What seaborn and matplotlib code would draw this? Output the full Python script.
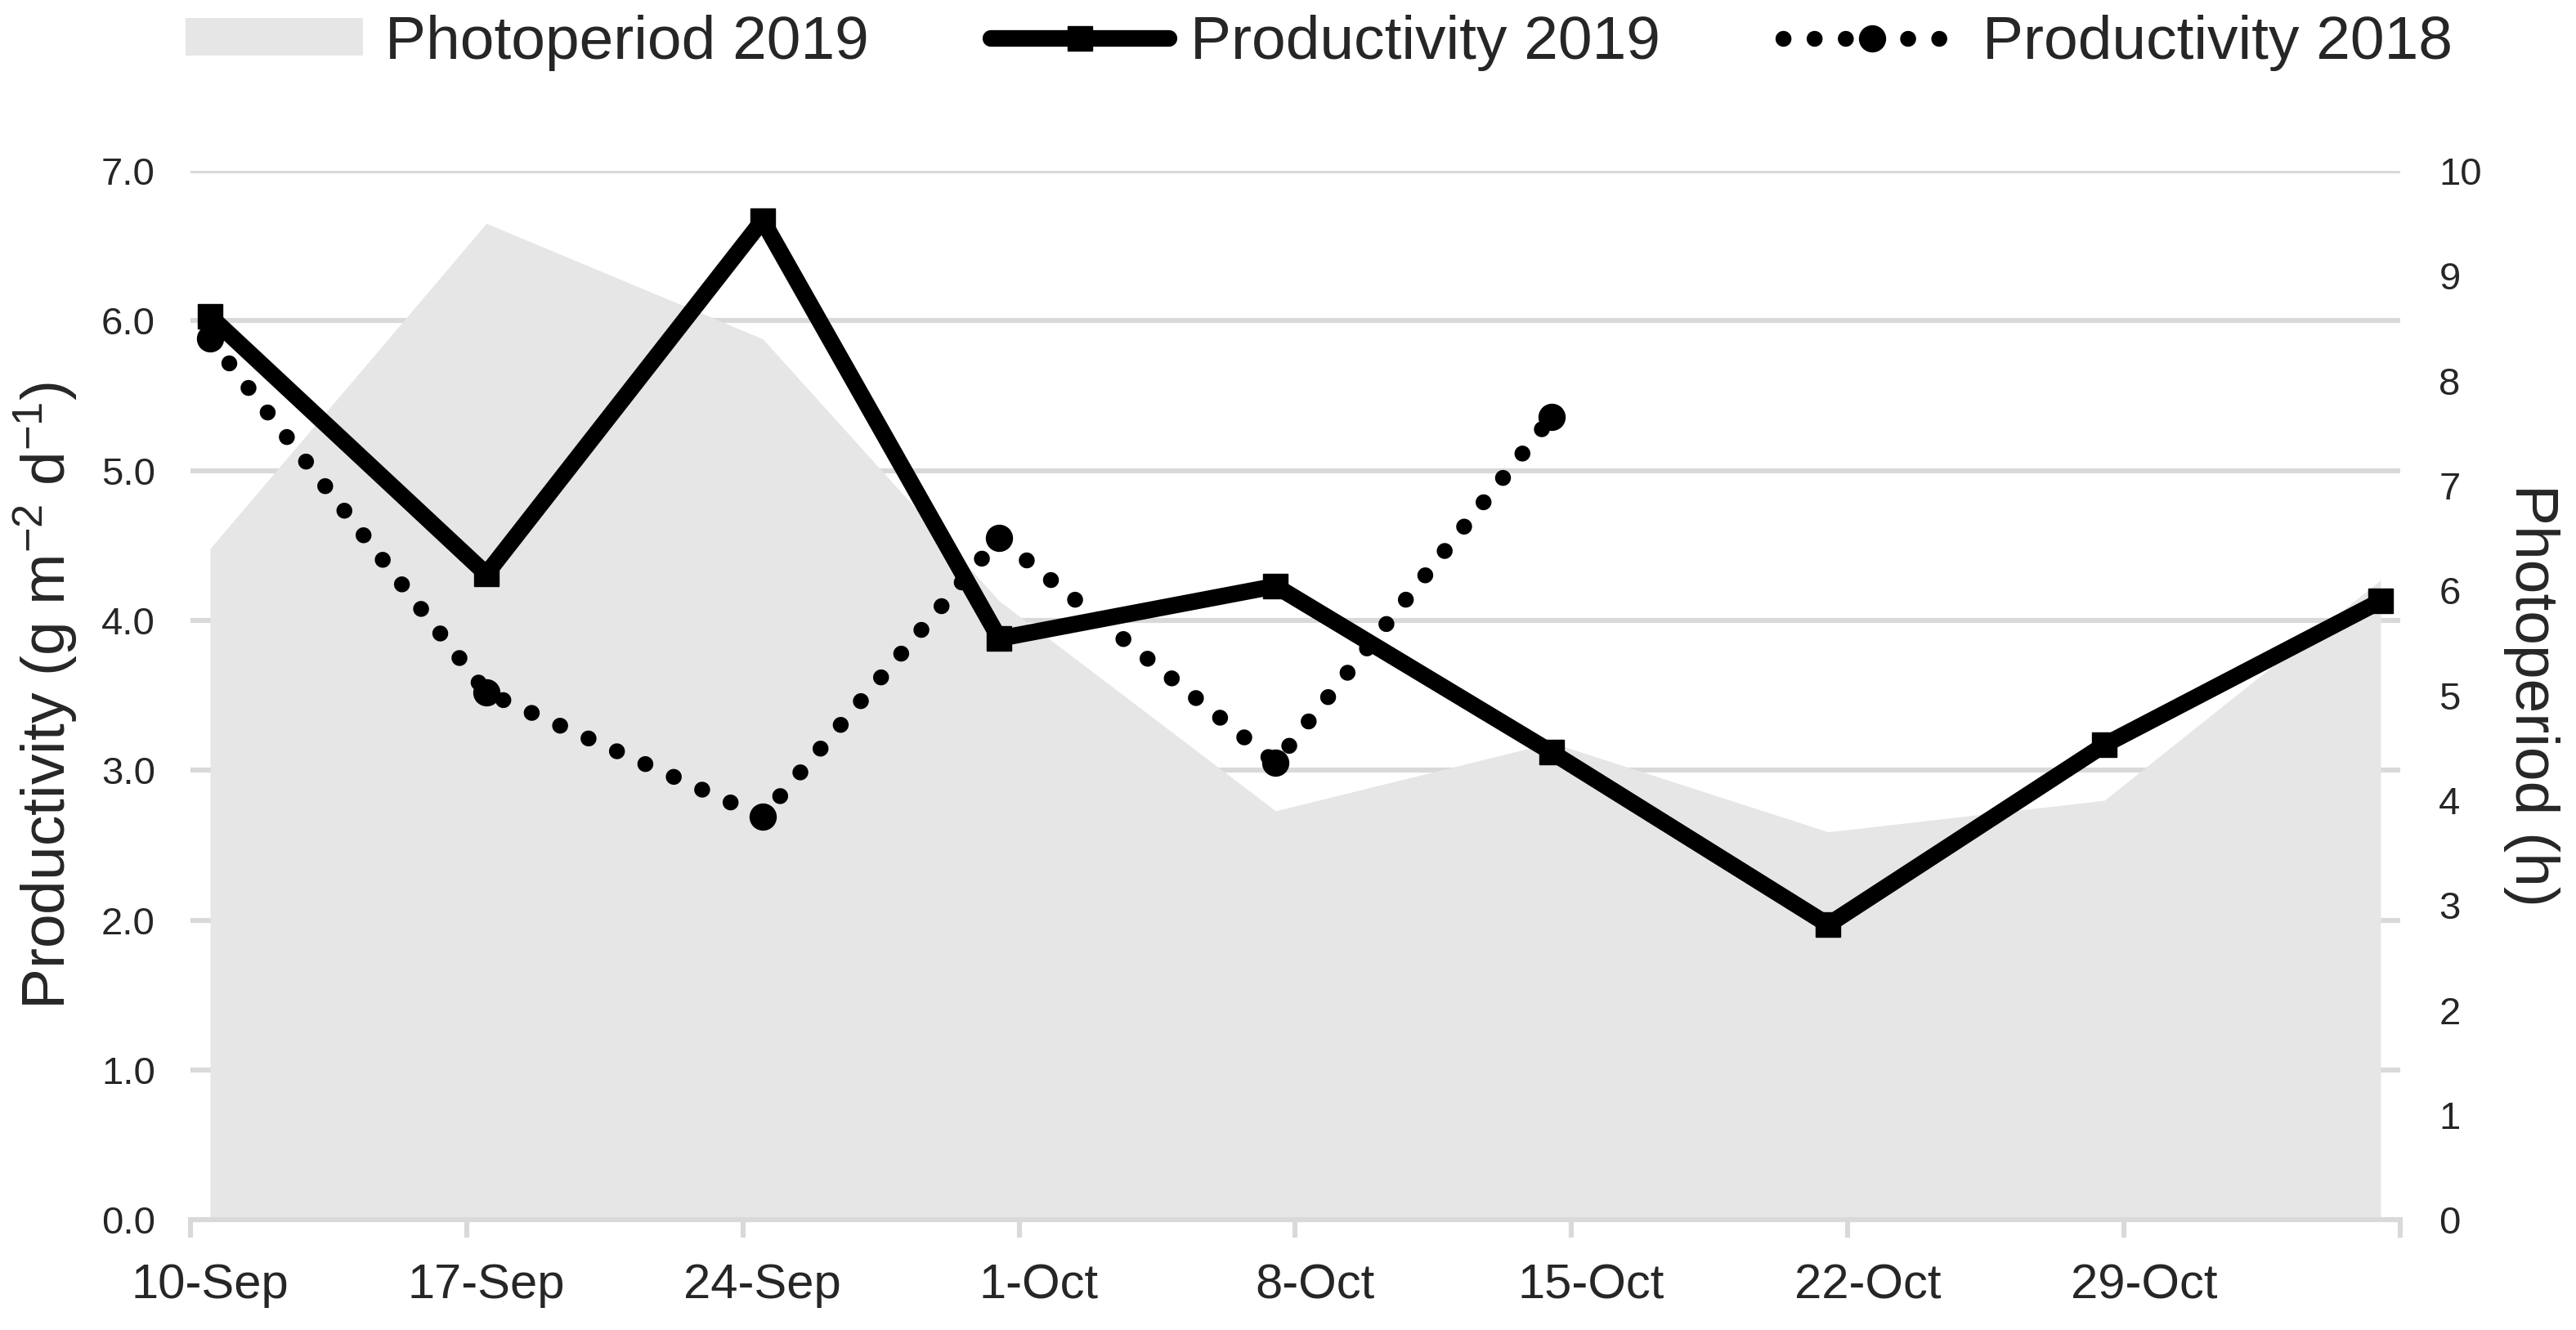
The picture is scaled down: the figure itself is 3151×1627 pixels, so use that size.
import seaborn as sns
import pandas as pd
import numpy as np
import matplotlib
matplotlib.use('Agg')
import matplotlib.pyplot as plt
import matplotlib.dates as mdates
from matplotlib.ticker import FixedLocator, FixedFormatter, NullFormatter, FormatStrFormatter

# sampling dates (2018 values are drawn on the same day-of-season calendar)
dates_2019 = ["2019-09-10", "2019-09-17", "2019-09-24", "2019-09-30", "2019-10-07",
              "2019-10-14", "2019-10-21", "2019-10-28", "2019-11-04"]
productivity_2019 = [6.03, 4.31, 6.67, 3.88, 4.23, 3.12, 1.97, 3.17, 4.13]
photoperiod_2019 = [6.4, 9.5, 8.4, 5.9, 3.9, 4.55, 3.7, 4.0, 6.1]

dates_2018 = ["2019-09-10", "2019-09-17", "2019-09-24", "2019-09-30", "2019-10-07", "2019-10-14"]
productivity_2018 = [5.88, 3.52, 2.69, 4.55, 3.05, 5.36]

tick_dates = ["2019-09-10", "2019-09-17", "2019-09-24", "2019-10-01",
              "2019-10-08", "2019-10-15", "2019-10-22", "2019-10-29"]
tick_labels = ["10-Sep", "17-Sep", "24-Sep", "1-Oct", "8-Oct", "15-Oct", "22-Oct", "29-Oct"]
axis_end = "2019-11-05"

sns.set_style('white')
plt.rcParams['font.family'] = ['Liberation Sans', 'DejaVu Sans']
plt.rcParams['mathtext.fontset'] = 'custom'
plt.rcParams['mathtext.rm'] = 'Liberation Sans'
plt.rcParams['mathtext.default'] = 'regular'

grey = '#d9d9d9'

fig, ax = plt.subplots(figsize=(15.755, 8.135), dpi=200)
fig.subplots_adjust(left=0.0739, right=0.9318, bottom=0.0827, top=0.8715)

ax2 = ax.twinx()   # photoperiod area (right axis)
ax3 = ax.twinx()   # productivity lines, on top of the area

x19 = pd.to_datetime(dates_2019)
x18 = pd.to_datetime(dates_2018)

# area
ax2.fill_between(x19, photoperiod_2019, 0, color='#e6e6e6', lw=0, label='Photoperiod 2019')

# lines
sns.lineplot(x=x19, y=productivity_2019, ax=ax3, color='black', lw=7.3, marker='s',
             markersize=11, markeredgecolor='black', markeredgewidth=0.5,
             label='Productivity 2019')
sns.lineplot(x=x18, y=productivity_2018, ax=ax3, color='black', lw=7.0,
             linestyle=(0, (0.01, 1.95)), dash_capstyle='round', marker='o',
             markersize=11.5, markeredgecolor='black', markeredgewidth=0.5,
             label='Productivity 2018')
if ax3.get_legend() is not None:
    ax3.get_legend().remove()

bordes = pd.to_datetime(tick_dates + [axis_end]) - pd.Timedelta(hours=12)
ax.set_xlim(bordes[0], bordes[-1])
ax.set_ylim(0, 7)
ax2.set_ylim(0, 10)
ax3.set_ylim(0, 7)
ax3.axis('off')

# left axis
ax.set_yticks(np.arange(0, 8, 1))
ax.yaxis.set_major_formatter(FormatStrFormatter('%.1f'))
ax.tick_params(axis='y', length=0, labelsize=17, pad=15.5)
ax.yaxis.grid(True, color=grey, lw=2.2)
ax.xaxis.grid(False)
for s in ax.spines.values():
    s.set_visible(False)
ax.set_ylabel('Productivity (g m$^{-2}$ d$^{-1}$)', fontsize=27)
ax.yaxis.set_label_coords(-0.0502, 0.5)

# right axis
ax2.set_yticks(range(0, 11))
ax2.tick_params(axis='y', length=0, labelsize=17, pad=17)
for s in ax2.spines.values():
    s.set_visible(False)
ax2.spines['bottom'].set_visible(True)
ax2.spines['bottom'].set_color(grey)
ax2.spines['bottom'].set_linewidth(2.2)
ax2.set_ylabel('Photoperiod (h)', fontsize=27, rotation=270, va='bottom')
ax2.yaxis.set_label_coords(1.0466, 0.5)

# x axis: tick marks on week boundaries, labels on the sampling day
ax.xaxis.set_major_locator(FixedLocator(mdates.date2num(bordes)))
ax.xaxis.set_major_formatter(NullFormatter())
ax.xaxis.set_minor_locator(FixedLocator(mdates.date2num(pd.to_datetime(tick_dates))))
ax.xaxis.set_minor_formatter(FixedFormatter(tick_labels))
ax.tick_params(axis='x', which='major', length=8, width=2.2, color=grey, direction='out', bottom=True)
ax.tick_params(axis='x', which='minor', length=0, labelsize=21.5, pad=19, bottom=True)
ax.set_xlabel('')

# legend
h2, l2 = ax2.get_legend_handles_labels()
h3, l3 = ax3.get_legend_handles_labels()
fig.legend(h2 + h3, l2 + l3, loc='center', bbox_to_anchor=(0.512, 0.968), ncol=3,
           frameon=False, fontsize=27, handlelength=2.9, handleheight=0.55,
           handletextpad=0.35, columnspacing=2.0)

plt.savefig('out.png', dpi=200)
